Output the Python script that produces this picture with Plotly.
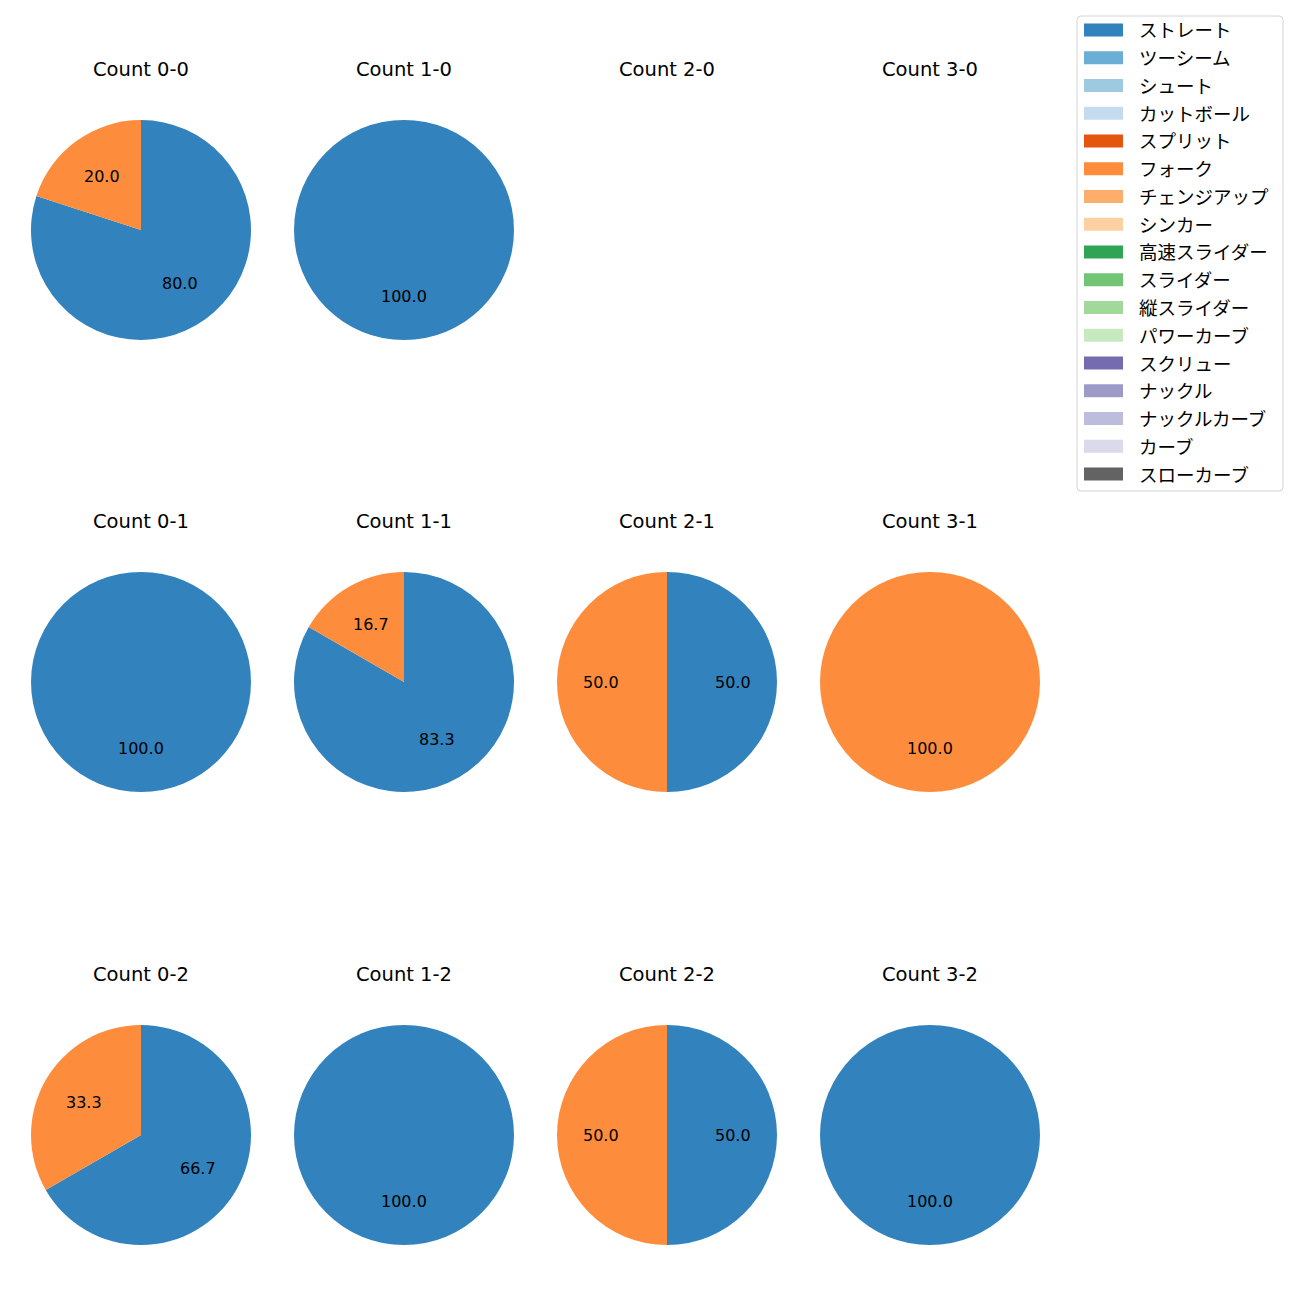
import math
import plotly.graph_objects as go

pitch_types = ["ストレート", "ツーシーム", "シュート", "カットボール", "スプリット", "フォーク",
               "チェンジアップ", "シンカー", "高速スライダー", "スライダー", "縦スライダー",
               "パワーカーブ", "スクリュー", "ナックル", "ナックルカーブ", "カーブ", "スローカーブ"]
colors = ["#3182bd", "#6baed6", "#9ecae1", "#c6dbef", "#e6550d", "#fd8d3c", "#fdae6b",
          "#fdd0a2", "#31a354", "#74c476", "#a1d99b", "#c7e9c0", "#756bb1", "#9e9ac8",
          "#bcbddc", "#dadaeb", "#636363"]

counts = ["0-0", "1-0", "2-0", "3-0",
          "0-1", "1-1", "2-1", "3-1",
          "0-2", "1-2", "2-2", "3-2"]
straight = [4, 2, 0, 0, 3, 5, 1, 0, 2, 2, 1, 1]
fork = [1, 0, 0, 0, 0, 1, 1, 1, 1, 0, 1, 0]

W = H = 1300
OFF = 8  # page body margin
LATIN = "DejaVu Sans, Noto Sans CJK JP, sans-serif"
JP = "Noto Sans CJK JP, DejaVu Sans, sans-serif"
col_cx = [141, 404, 667, 930]
row_cy = [230, 682, 1135]
R = 110

fig = go.Figure()
annotations = []
shapes = []

def px(x):
    return (x - OFF) / W

def py(y):
    return 1 - (y - OFF) / H

for i, cnt in enumerate(counts):
    r, c = divmod(i, 4)
    cx, cy = col_cx[c], row_cy[r]
    annotations.append(dict(x=px(cx), y=py(cy - R - 37), xref="paper", yref="paper",
                            text=f"Count {cnt}", showarrow=False,
                            font=dict(size=19.5, color="black", family=LATIN),
                            xanchor="center", yanchor="bottom"))
    vals = [straight[i], fork[i]]
    labs = [pitch_types[0], pitch_types[5]]
    cols = [colors[0], colors[5]]
    keep = [k for k in range(2) if vals[k] > 0]
    total = sum(vals)
    if total == 0:
        continue
    v = [vals[k] for k in keep]
    fig.add_trace(go.Pie(
        labels=[labs[k] for k in keep], values=v,
        marker=dict(colors=[cols[k] for k in keep], line=dict(width=0)),
        sort=False, direction="clockwise", rotation=0,
        textinfo="none", hoverinfo="label+percent", showlegend=False,
        domain=dict(x=[px(cx - R), px(cx + R)], y=[py(cy + R), py(cy - R)]),
    ))
    cum = 0
    for val in v:
        mid = math.radians(90 - (cum + val / 2) / total * 360)
        cum += val
        tx = cx + 0.6 * R * math.cos(mid)
        ty = cy - 0.6 * R * math.sin(mid)
        annotations.append(dict(x=px(tx), y=py(ty), xref="paper", yref="paper",
                                text=f"{val / total * 100:.1f}", showarrow=False,
                                font=dict(size=16, color="black", family=LATIN),
                                xanchor="center", yanchor="middle"))

# legend box
lx0, lx1, ly0, ly1 = 1077, 1283, 16, 491
rad = 4
path = (f"M {px(lx0+rad)},{py(ly0)} L {px(lx1-rad)},{py(ly0)} "
        f"Q {px(lx1)},{py(ly0)} {px(lx1)},{py(ly0+rad)} "
        f"L {px(lx1)},{py(ly1-rad)} Q {px(lx1)},{py(ly1)} {px(lx1-rad)},{py(ly1)} "
        f"L {px(lx0+rad)},{py(ly1)} Q {px(lx0)},{py(ly1)} {px(lx0)},{py(ly1-rad)} "
        f"L {px(lx0)},{py(ly0+rad)} Q {px(lx0)},{py(ly0)} {px(lx0+rad)},{py(ly0)} Z")
shapes.append(dict(type="path", path=path, xref="paper", yref="paper",
                   line=dict(color="#d4d4d4", width=1), fillcolor="rgba(255,255,255,0.8)"))
for k, (name, col) in enumerate(zip(pitch_types, colors)):
    yc = 30 + k * 27.75
    shapes.append(dict(type="rect", xref="paper", yref="paper",
                       x0=px(1084), x1=px(1123), y0=py(yc - 6.5), y1=py(yc + 6.5),
                       fillcolor=col, line=dict(width=0)))
    annotations.append(dict(x=px(1137), y=py(yc - 0.5), xref="paper", yref="paper",
                            text=name, showarrow=False, xanchor="left", yanchor="middle",
                            font=dict(size=18.5, color="black", family=JP)))

fig.update_layout(width=W, height=H, margin=dict(l=0, r=0, t=0, b=0),
                  paper_bgcolor="white", plot_bgcolor="white",
                  annotations=annotations, shapes=shapes, showlegend=False,
                  font=dict(family=JP))
fig.write_html("out.html")
